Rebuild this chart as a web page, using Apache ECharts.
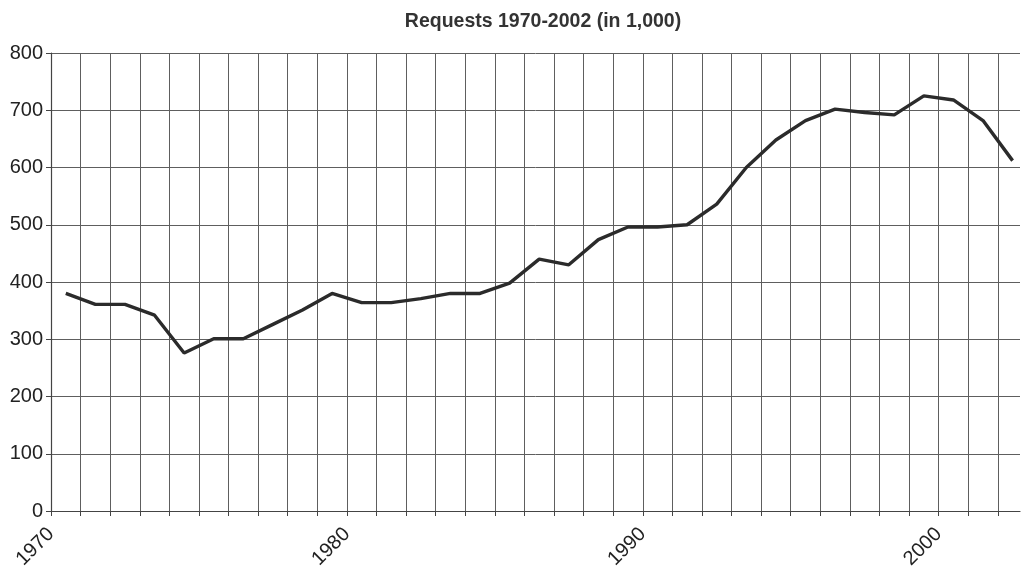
<!DOCTYPE html>
<html>
<head>
<meta charset="utf-8">
<script src="https://cdn.jsdelivr.net/npm/echarts@6/dist/echarts.min.js"></script>
<style>html,body{margin:0;padding:0;background:#fff}#c{width:1022px;height:566px}</style>
</head>
<body>
<div id="c"></div>
<script>
var years = [1970,1971,1972,1973,1974,1975,1976,1977,1978,1979,1980,1981,1982,1983,1984,1985,1986,1987,1988,1989,1990,1991,1992,1993,1994,1995,1996,1997,1998,1999,2000,2001,2002];
var requests = [380,361,361,342,276,301,301,326,351,380,364,364,371,380,380,398,440,430,474,496,496,500,536,600,648,682,702,696,692,725,718,682,612];
var yTicks = [0,100,200,300,400,500,600,700,800];
var xLabelYears = [1970,1980,1990,2000];

var chart = echarts.init(document.getElementById('c'), null, {renderer:'canvas'});
var pts = years.map(function(y,i){ return [y + 0.5, requests[i]]; });
chart.setOption({
  animation:false,
  backgroundColor:'#fff',
  title:{
    text:'Requests 1970-2002 (in 1,000)',
    left:538, textAlign:'center', top:7,
    textStyle:{fontFamily:'Liberation Sans', fontWeight:'bold', fontSize:19.5, color:'#333'}
  },
  grid:{left:51, right:2, top:53, bottom:55, containLabel:false, outerBoundsMode:'none'},
  xAxis:{
    type:'value', min:years[0], max:2002.75, interval:1,
    axisLine:{show:true, lineStyle:{color:'#444', width:1.2}},
    axisTick:{show:true, length:5, lineStyle:{color:'#444'}},
    splitLine:{show:true, showMaxLine:false, lineStyle:{color:'#5e5e5e', width:1}},
    axisLabel:{
      rotate:45, margin:20, fontFamily:'Liberation Sans', fontSize:20, color:'#222',
      showMaxLabel:false,
      formatter:function(v){ return xLabelYears.indexOf(Math.round(v))>=0 && Math.abs(v-Math.round(v))<1e-6 ? String(Math.round(v)) : ''; }
    }
  },
  yAxis:{
    type:'value', min:yTicks[0], max:yTicks[yTicks.length-1], interval:100,
    axisLine:{show:true, lineStyle:{color:'#444', width:1.2}},
    axisTick:{show:true, length:5, lineStyle:{color:'#444'}},
    splitLine:{show:true, lineStyle:{color:'#5e5e5e', width:1}},
    axisLabel:{margin:8, fontFamily:'Liberation Sans', fontSize:20, color:'#222'}
  },
  series:[{
    type:'line', data:pts, showSymbol:false, symbol:'none',
    lineStyle:{color:'#2b2b2b', width:3.4}
  }]
});
</script>
</body>
</html>
